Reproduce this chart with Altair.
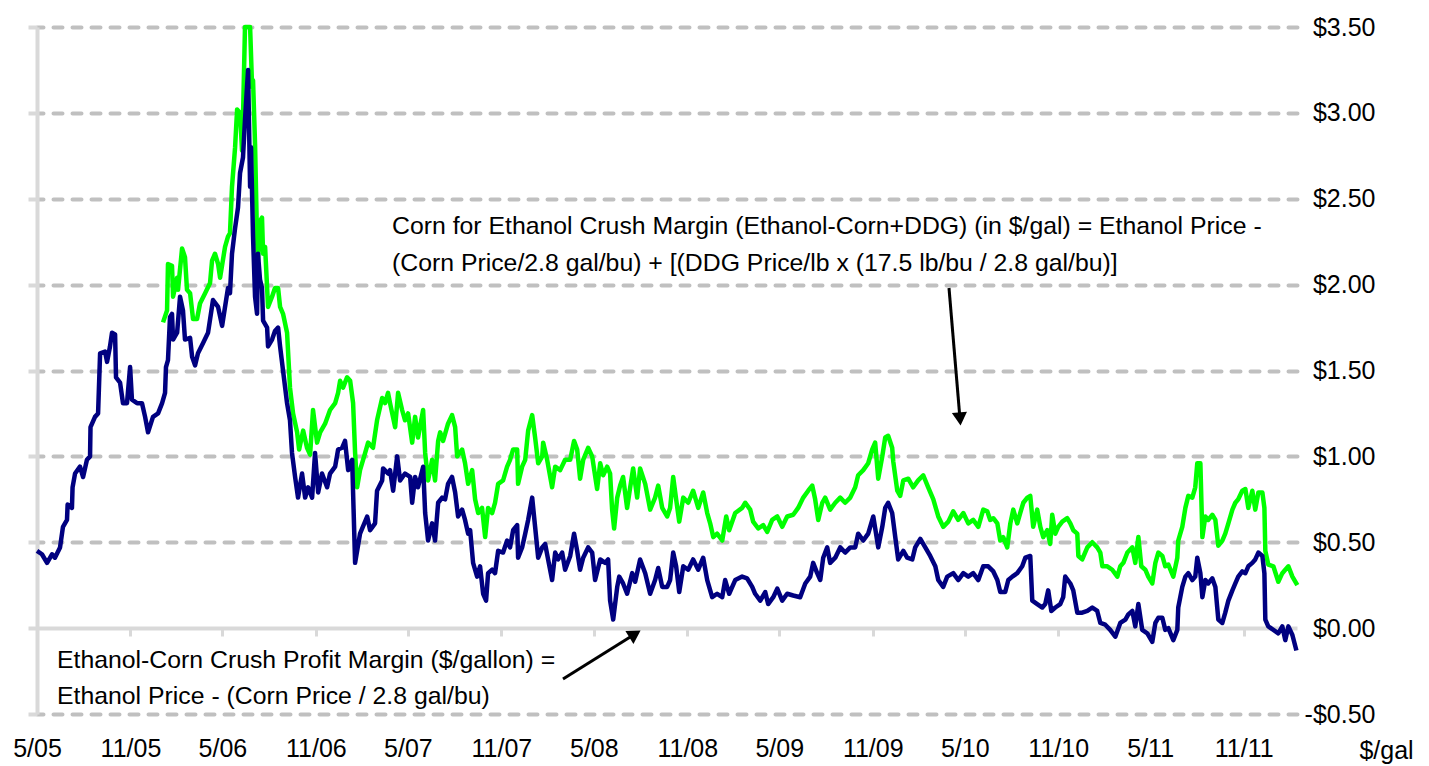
import altair as alt
import pandas as pd
import numpy as np

# x = months since May 2005, y = $/gal
blue_pts = [
 (0,0.45),(0.32,0.43),(0.65,0.38),(0.97,0.43),(1.16,0.41),(1.49,0.47),(1.68,0.59),(1.94,0.63),(1.98,0.72),(2.26,0.70),
 (2.30,0.82),(2.46,0.90),(2.78,0.94),(2.98,0.88),(3.23,0.98),(3.43,1.00),(3.46,1.17),(3.75,1.23),(3.95,1.25),(4.08,1.60),
 (4.40,1.61),(4.53,1.55),(4.72,1.64),(4.85,1.72),(5.05,1.71),(5.11,1.46),(5.37,1.43),(5.56,1.31),(5.82,1.31),(6.02,1.52),
 (6.14,1.33),(6.47,1.31),(6.79,1.31),(6.99,1.23),(7.18,1.14),(7.50,1.23),(7.83,1.25),(8.09,1.31),(8.28,1.37),(8.34,1.52),
 (8.47,1.56),(8.60,1.81),(8.73,1.83),(8.80,1.68),(9.06,1.72),(9.25,1.93),(9.44,1.85),(9.57,1.68),(9.90,1.69),(10.03,1.58),
 (10.22,1.53),(10.41,1.60),(10.74,1.66),(11.06,1.72),(11.38,1.91),(11.71,1.87),(11.97,1.76),(12.16,1.87),(12.35,1.98),(12.48,1.95),
 (12.61,2.18),(12.81,2.33),(13.00,2.45),(13.13,2.65),(13.32,2.74),(13.45,2.96),(13.58,3.15),(13.65,3.25),(13.78,2.57),(13.84,2.80),
 (13.97,2.28),(14.10,1.93),(14.23,1.83),(14.29,2.18),(14.42,2.03),(14.55,1.98),(14.62,1.79),(14.88,1.75),(14.94,1.64),(15.20,1.68),
 (15.39,1.73),(15.59,1.75),(15.72,1.64),(15.91,1.50),(16.17,1.31),(16.36,1.21),(16.49,1.02),(16.69,0.88),(16.88,0.76),(17.14,0.90),
 (17.34,0.76),(17.53,0.82),(17.79,0.76),(17.98,1.02),(18.18,0.79),(18.43,0.90),(18.76,0.82),(18.95,0.90),(19.28,0.94),(19.47,1.04),
 (19.73,1.05),(19.92,1.09),(20.12,0.92),(20.38,0.98),(20.57,0.38),(20.89,0.55),(21.35,0.65),(21.54,0.57),(21.86,0.61),(21.99,0.80),
 (22.32,0.86),(22.38,0.93),(22.70,0.90),(22.83,0.92),(23.03,0.80),(23.29,1.00),(23.48,0.86),(23.80,0.90),(24.13,0.88),(24.26,0.73),
 (24.45,0.88),(24.64,0.82),(24.97,0.94),(25.10,0.67),(25.29,0.51),(25.55,0.61),(25.74,0.51),(25.94,0.73),(26.20,0.76),(26.39,0.75),
 (26.58,0.84),(26.84,0.88),(27.04,0.79),(27.23,0.65),(27.49,0.69),(27.68,0.63),(27.88,0.55),(28.01,0.57),(28.20,0.38),(28.46,0.30),
 (28.65,0.36),(28.85,0.20),(29.04,0.16),(29.17,0.32),(29.43,0.34),(29.62,0.32),(29.82,0.45),(30.14,0.44),(30.40,0.51),(30.59,0.47),
 (30.79,0.57),(31.05,0.60),(31.11,0.41),(31.37,0.47),(31.57,0.55),(31.76,0.63),(32.02,0.76),(32.21,0.59),(32.41,0.41),(32.67,0.47),
 (32.86,0.49),(33.05,0.40),(33.31,0.28),(33.51,0.44),(33.70,0.40),(33.96,0.44),(34.15,0.34),(34.48,0.42),(34.73,0.55),(34.93,0.45),
 (35.12,0.34),(35.32,0.41),(35.64,0.47),(35.90,0.44),(36.09,0.28),(36.42,0.40),(36.74,0.38),(36.93,0.40),(37.06,0.16),(37.26,0.05),
 (37.52,0.24),(37.65,0.30),(37.90,0.26),(38.16,0.20),(38.49,0.32),(38.68,0.27),(39.00,0.40),(39.33,0.32),(39.65,0.20),(39.97,0.28),
 (40.17,0.35),(40.43,0.24),(40.75,0.24),(40.94,0.28),(41.14,0.44),(41.33,0.36),(41.53,0.21),(41.79,0.36),(42.11,0.34),(42.43,0.40),
 (42.76,0.34),(43.08,0.41),(43.34,0.28),(43.66,0.18),(43.98,0.20),(44.31,0.18),(44.50,0.28),(44.76,0.20),(45.15,0.28),(45.60,0.30),
 (45.92,0.29),(46.25,0.24),(46.44,0.20),(46.77,0.16),(47.09,0.21),(47.28,0.14),(47.61,0.18),(47.87,0.23),(48.19,0.16),(48.51,0.20),
 (48.90,0.19),(49.35,0.18),(49.68,0.26),(50.00,0.30),(50.19,0.38),(50.45,0.32),(50.65,0.28),(50.84,0.41),(51.10,0.47),(51.29,0.38),
 (51.62,0.41),(51.94,0.47),(52.26,0.44),(52.59,0.47),(52.91,0.47),(53.10,0.55),(53.43,0.51),(53.75,0.55),(54.08,0.65),(54.40,0.47),
 (54.66,0.59),(54.85,0.70),(55.04,0.73),(55.30,0.67),(55.50,0.53),(55.69,0.40),(56.02,0.45),(56.27,0.41),(56.60,0.40),(56.79,0.47),
 (57.12,0.52),(57.44,0.47),(57.76,0.42),(58.09,0.36),(58.28,0.28),(58.60,0.24),(58.86,0.30),(59.25,0.32),(59.57,0.28),(59.90,0.32),
 (60.22,0.30),(60.54,0.32),(60.87,0.28),(61.19,0.36),(61.51,0.36),(61.84,0.33),(62.10,0.28),(62.29,0.21),(62.61,0.21),(62.81,0.28),
 (63.07,0.30),(63.39,0.32),(63.71,0.36),(63.91,0.41),(64.23,0.42),(64.36,0.16),(64.68,0.14),(65.01,0.12),(65.20,0.14),(65.39,0.22),
 (65.59,0.10),(65.85,0.12),(66.17,0.14),(66.36,0.18),(66.49,0.30),(66.82,0.26),(67.01,0.22),(67.27,0.09),(67.59,0.09),(67.92,0.10),
 (68.24,0.12),(68.56,0.10),(68.76,0.03),(69.08,0.02),(69.40,-0.01),(69.73,-0.05),(70.05,0.03),(70.38,0.05),(70.57,0.08),(70.83,0.10),
 (71.02,0.01),(71.22,0.14),(71.47,-0.01),(71.80,-0.03),(72.12,-0.08),(72.32,0.03),(72.51,0.06),(72.77,0.06),(72.96,-0.01),(73.16,0.00),
 (73.48,-0.07),(73.74,-0.01),(73.80,0.12),(74.06,0.24),(74.26,0.30),(74.45,0.32),(74.71,0.28),(74.90,0.30),(75.03,0.41),(75.23,0.32),
 (75.36,0.18),(75.55,0.28),(75.74,0.26),(76.00,0.29),(76.20,0.24),(76.39,0.05),(76.65,0.03),(76.84,0.09),(77.04,0.16),(77.30,0.22),
 (77.49,0.26),(77.68,0.30),(77.94,0.33),(78.14,0.32),(78.33,0.36),(78.59,0.38),(78.78,0.40),(78.98,0.44),(79.24,0.42),(79.37,0.32),
 (79.43,0.05),(79.62,0.01),(79.95,-0.01),(80.27,-0.03),(80.53,0.01),(80.72,-0.07),(80.92,0.01),(81.18,-0.04),(81.44,-0.13),
]

green_pts = [
 (8.15,1.78),(8.41,1.85),(8.47,2.12),(8.73,2.11),(8.80,1.93),(9.06,2.04),(9.12,1.97),(9.38,2.21),(9.57,2.16),(9.70,1.97),
 (9.90,1.95),(10.09,1.80),(10.35,1.80),(10.54,1.89),(10.87,1.95),(11.19,2.01),(11.32,2.14),(11.51,2.18),(11.71,2.12),(11.84,2.04),
 (12.16,2.22),(12.35,2.28),(12.48,2.30),(12.61,2.57),(12.81,2.80),(12.94,3.02),(13.13,3.00),(13.26,2.78),(13.32,2.97),(13.45,3.50),
 (13.78,3.50),(13.91,3.15),(13.97,3.19),(14.10,2.82),(14.23,2.26),(14.29,2.14),(14.42,2.37),(14.55,2.39),(14.62,2.18),(14.75,2.22),
 (14.94,1.87),(15.20,1.93),(15.39,1.98),(15.59,1.98),(15.72,1.87),(15.91,1.83),(16.17,1.72),(16.36,1.40),(16.56,1.25),(16.82,1.14),
 (16.95,1.04),(17.21,1.15),(17.46,1.05),(17.66,1.01),(17.85,1.27),(18.11,1.08),(18.31,1.14),(18.63,1.19),(18.95,1.27),(19.28,1.31),
 (19.47,1.37),(19.60,1.44),(19.79,1.40),(20.05,1.46),(20.25,1.44),(20.44,1.31),(20.57,1.02),(20.70,0.82),(20.89,0.92),(21.22,1.02),
 (21.41,1.08),(21.73,1.05),(21.99,1.21),(22.32,1.34),(22.51,1.31),(22.70,1.37),(22.83,1.31),(23.16,1.17),(23.35,1.37),(23.61,1.27),
 (23.80,1.21),(24.00,1.25),(24.26,1.08),(24.45,1.23),(24.64,1.11),(24.97,1.27),(25.10,1.02),(25.29,0.86),(25.55,0.98),(25.74,0.86),
 (25.94,1.09),(26.07,1.14),(26.26,1.09),(26.58,1.19),(26.84,1.24),(27.04,1.17),(27.17,1.00),(27.49,1.04),(27.68,0.96),(27.88,0.84),
 (28.14,0.92),(28.33,0.75),(28.53,0.67),(28.78,0.70),(28.98,0.53),(29.17,0.70),(29.43,0.67),(29.62,0.73),(29.82,0.84),(30.14,0.86),
 (30.40,0.94),(30.59,0.98),(30.79,1.04),(31.05,1.04),(31.11,0.84),(31.37,0.94),(31.57,0.98),(31.76,1.15),(32.02,1.24),(32.21,1.11),
 (32.41,0.96),(32.67,1.00),(32.73,1.08),(32.99,0.98),(33.31,0.82),(33.51,0.94),(33.83,0.92),(34.15,0.98),(34.48,0.98),(34.73,1.09),
 (34.93,1.04),(35.12,0.87),(35.32,0.98),(35.64,1.05),(35.90,1.00),(36.22,0.81),(36.42,0.96),(36.61,0.89),(36.87,0.94),(37.06,0.90),
 (37.19,0.69),(37.32,0.58),(37.52,0.76),(37.71,0.83),(37.90,0.88),(38.16,0.70),(38.36,0.82),(38.55,0.93),(38.81,0.76),(39.00,0.93),
 (39.33,0.84),(39.65,0.69),(39.97,0.76),(40.17,0.83),(40.43,0.70),(40.75,0.65),(40.94,0.70),(41.14,0.88),(41.33,0.75),(41.53,0.62),
 (41.79,0.76),(42.11,0.73),(42.43,0.80),(42.76,0.70),(43.08,0.79),(43.34,0.67),(43.53,0.61),(43.73,0.53),(43.98,0.55),(44.31,0.51),
 (44.57,0.65),(44.76,0.57),(45.15,0.67),(45.60,0.70),(45.80,0.73),(46.12,0.69),(46.31,0.62),(46.64,0.58),(46.96,0.60),(47.22,0.56),
 (47.54,0.63),(47.87,0.65),(48.19,0.59),(48.51,0.65),(48.90,0.66),(49.22,0.70),(49.55,0.76),(49.87,0.80),(50.13,0.83),(50.32,0.75),
 (50.52,0.63),(50.78,0.73),(50.97,0.76),(51.29,0.69),(51.62,0.73),(51.94,0.76),(52.26,0.73),(52.59,0.76),(52.91,0.82),(53.10,0.89),
 (53.43,0.92),(53.75,0.96),(54.01,1.04),(54.20,1.08),(54.40,0.87),(54.66,1.00),(54.85,1.11),(55.04,1.12),(55.30,1.05),(55.37,0.97),
 (55.63,0.80),(55.82,0.77),(56.02,0.86),(56.34,0.87),(56.66,0.82),(56.98,0.86),(57.31,0.89),(57.63,0.82),(57.96,0.75),(58.28,0.65),
 (58.60,0.59),(58.93,0.62),(59.25,0.68),(59.57,0.63),(59.90,0.67),(60.22,0.61),(60.54,0.63),(60.87,0.59),(61.19,0.69),(61.45,0.68),
 (61.64,0.63),(61.84,0.64),(62.10,0.61),(62.29,0.51),(62.48,0.53),(62.74,0.47),(62.94,0.61),(63.13,0.69),(63.39,0.61),(63.58,0.67),
 (63.78,0.73),(64.04,0.76),(64.23,0.77),(64.42,0.59),(64.68,0.69),(64.88,0.59),(65.07,0.53),(65.33,0.57),(65.52,0.49),(65.65,0.66),
 (65.85,0.55),(66.04,0.59),(66.30,0.62),(66.62,0.64),(66.82,0.61),(67.01,0.57),(67.27,0.55),(67.34,0.42),(67.59,0.40),(67.92,0.47),
 (68.24,0.50),(68.56,0.47),(68.76,0.44),(68.89,0.36),(69.21,0.36),(69.53,0.34),(69.86,0.30),(70.05,0.36),(70.25,0.38),(70.51,0.44),
 (70.83,0.47),(71.02,0.38),(71.22,0.53),(71.41,0.36),(71.67,0.34),(71.86,0.30),(72.12,0.26),(72.32,0.38),(72.51,0.44),(72.77,0.42),
 (72.96,0.36),(73.16,0.37),(73.48,0.30),(73.74,0.41),(73.80,0.51),(74.06,0.59),(74.26,0.70),(74.45,0.77),(74.71,0.76),(74.90,0.82),
 (75.03,0.96),(75.23,0.96),(75.36,0.53),(75.55,0.65),(75.74,0.63),(76.00,0.66),(76.20,0.63),(76.39,0.48),(76.65,0.51),(76.84,0.55),
 (77.04,0.61),(77.30,0.69),(77.49,0.73),(77.68,0.75),(77.94,0.80),(78.14,0.81),(78.33,0.70),(78.59,0.80),(78.78,0.69),(78.98,0.79),
 (79.24,0.79),(79.37,0.70),(79.43,0.45),(79.62,0.37),(79.95,0.36),(80.27,0.27),(80.53,0.32),(80.72,0.34),(80.92,0.36),(81.18,0.30),
 (81.50,0.25),
]

y_ticks = [-0.5, 0, 0.5, 1.0, 1.5, 2.0, 2.5, 3.0, 3.5]
x_tick_months = [(2005, 5), (2005, 11), (2006, 5), (2006, 11), (2007, 5), (2007, 11), (2008, 5),
                 (2008, 11), (2009, 5), (2009, 11), (2010, 5), (2010, 11), (2011, 5), (2011, 11)]

note_top = ["Corn for Ethanol Crush Margin (Ethanol-Corn+DDG) (in $/gal) = Ethanol Price -",
            "(Corn Price/2.8 gal/bu) + [(DDG Price/lb x (17.5 lb/bu / 2.8 gal/bu)]"]
note_bottom = ["Ethanol-Corn Crush Profit Margin ($/gallon) =",
               "Ethanol Price - (Corn Price / 2.8 gal/bu)"]

start = pd.Timestamp("2005-05-01")


def to_df(pts):
    m = np.array([p[0] for p in pts])
    v = [p[1] for p in pts]
    d = start + pd.to_timedelta(m * 30.4375, unit="D")
    return pd.DataFrame({"date": d, "value": v})


blue_df = to_df(blue_pts)
green_df = to_df(green_pts)

FONT = "Liberation Sans"

xscale = alt.Scale(domain=[alt.DateTime(year=2005, month=5, date=1),
                           alt.DateTime(year=2012, month=2, date=14)])
yscale = alt.Scale(domain=[-0.5, 3.5], nice=False, zero=False)

x_axis = alt.Axis(
    values=[alt.DateTime(year=y, month=m, date=1) for y, m in x_tick_months],
    format="%-m/%y", labelFont=FONT, labelFontSize=25, labelColor="black",
    labelFlush=False, labelOverlap=False,
    domain=True, domainColor="#d9d9d9", domainWidth=4,
    ticks=True, tickColor="#d9d9d9", tickWidth=3, tickSize=8,
    offset=-86, labelPadding=100, grid=False, title=None,
)

right_axis = alt.Axis(
    orient="right", values=y_ticks,
    labelExpr="datum.value < 0 ? '-$' + format(-datum.value, '.2f') : '$' + format(datum.value, '.2f')",
    labelFont=FONT, labelFontSize=25, labelColor="black", labelAlign="right",
    labelPadding=78, ticks=False, tickSize=0, domain=False,
    grid=True, gridColor="#c0c0c0", gridWidth=4, gridDash=[9, 10], gridCap="round",
    gridOpacity={"condition": {"test": "datum.value === 0", "value": 0}, "value": 1},
    title="$/gal", titleAngle=0, titleX=89, titleY=723, titleFont=FONT, titleFontSize=25,
    titleFontWeight="normal", titleColor="black", titleAlign="center", titleBaseline="middle",
)

left_axis = alt.Axis(
    orient="left", values=y_ticks, labels=False, domain=True, domainColor="#d9d9d9",
    domainWidth=4, ticks=True, tickColor="#d9d9d9", tickWidth=4, tickSize=9,
    grid=False, title=None,
)

green_line = alt.Chart(green_df).mark_line(color="#00ff00", strokeWidth=4.5, strokeJoin="round").encode(
    x=alt.X("date:T", scale=xscale, axis=x_axis),
    y=alt.Y("value:Q", scale=yscale, axis=left_axis),
)
blue_line = alt.Chart(blue_df).mark_line(color="#000080", strokeWidth=4.5, strokeJoin="round").encode(
    x=alt.X("date:T", scale=xscale, axis=x_axis),
    y=alt.Y("value:Q", scale=yscale, axis=right_axis),
)

dummy = pd.DataFrame({"k": [0]})


def text_line(s, px, py):
    return alt.Chart(dummy).mark_text(align="left", baseline="middle", font=FONT,
                                      fontSize=24.8, color="black").encode(
        x=alt.value(px), y=alt.value(py), text=alt.value(s))


def arrow(x1, y1, x2, y2, ang):
    shaft = alt.Chart(dummy).mark_rule(color="black", strokeWidth=3).encode(
        x=alt.value(x1), y=alt.value(y1), x2=alt.value(x2), y2=alt.value(y2))
    head = alt.Chart(dummy).mark_point(shape="triangle-up", filled=True, color="black",
                                       opacity=1, size=230, angle=ang).encode(
        x=alt.value(x2), y=alt.value(y2))
    return shaft + head


texts = [
    text_line(note_top[0], 355, 200),
    text_line(note_top[1], 355, 237),
    text_line(note_bottom[0], 20, 634),
    text_line(note_bottom[1], 20, 670),
]

chart = alt.layer(
    green_line, blue_line, *texts,
    arrow(912, 261, 923, 392, 175),
    arrow(526, 652, 598, 607, 58),
).resolve_axis(y="independent").properties(
    width=1260, height=687,
    padding={"left": 29, "top": 19, "right": 124, "bottom": 52},
    autosize="none", background="white",
).configure_view(stroke=None)

chart.save("out.html", embed_options={"renderer": "svg", "actions": False})
